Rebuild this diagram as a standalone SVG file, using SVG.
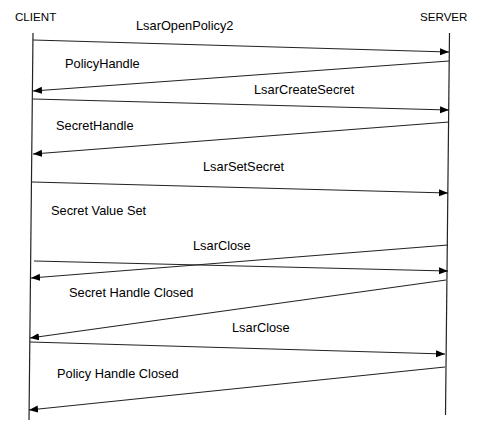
<svg xmlns="http://www.w3.org/2000/svg" width="484" height="432" viewBox="0 0 484 432">
<style>
text{font-family:"Liberation Sans",Arial,sans-serif;font-size:12.8px;fill:#000}
text.hdr{font-size:11.6px}
.life{stroke:#222;stroke-width:1.2;fill:none}
.msg{stroke:#222;stroke-width:1.1;fill:none;marker-end:url(#ah)}
</style>
<defs>
<marker id="ah" markerUnits="userSpaceOnUse" markerWidth="10" markerHeight="8" refX="9" refY="3.5" orient="auto">
<path d="M0,0 L9,3.5 L0,7 z" fill="#000"/>
</marker>
</defs>
<rect width="484" height="432" fill="#fff"/>
<g id="client">
<text class="hdr" x="15" y="21">CLIENT</text>
<line class="life" x1="33" y1="33" x2="29" y2="420"/>
</g>
<g id="server">
<text class="hdr" x="420" y="21">SERVER</text>
<line class="life" x1="449.5" y1="33" x2="445.5" y2="415"/>
</g>
<g id="connectors">
<line class="msg" x1="33" y1="40" x2="449" y2="52"/>
<line class="msg" x1="449" y1="61" x2="33" y2="91"/>
<line class="msg" x1="33" y1="99" x2="449" y2="110"/>
<line class="msg" x1="449" y1="122" x2="33" y2="154"/>
<line class="msg" x1="32" y1="182" x2="448" y2="193"/>
<line class="msg" x1="448" y1="245" x2="31" y2="278"/>
<line class="msg" x1="34" y1="261" x2="448" y2="271"/>
<line class="msg" x1="446" y1="280" x2="30" y2="338"/>
<line class="msg" x1="30" y1="342" x2="445" y2="354"/>
<line class="msg" x1="445" y1="367" x2="29" y2="410"/>
</g>
<g id="labels">
<text x="136" y="30">LsarOpenPolicy2</text>
<text x="65" y="68">PolicyHandle</text>
<text x="254" y="94">LsarCreateSecret</text>
<text x="56" y="130">SecretHandle</text>
<text x="203" y="171">LsarSetSecret</text>
<text x="51" y="215">Secret Value Set</text>
<text x="193" y="250">LsarClose</text>
<text x="69" y="297">Secret Handle Closed</text>
<text x="232" y="332">LsarClose</text>
<text x="57" y="378">Policy Handle Closed</text>
</g>
</svg>
